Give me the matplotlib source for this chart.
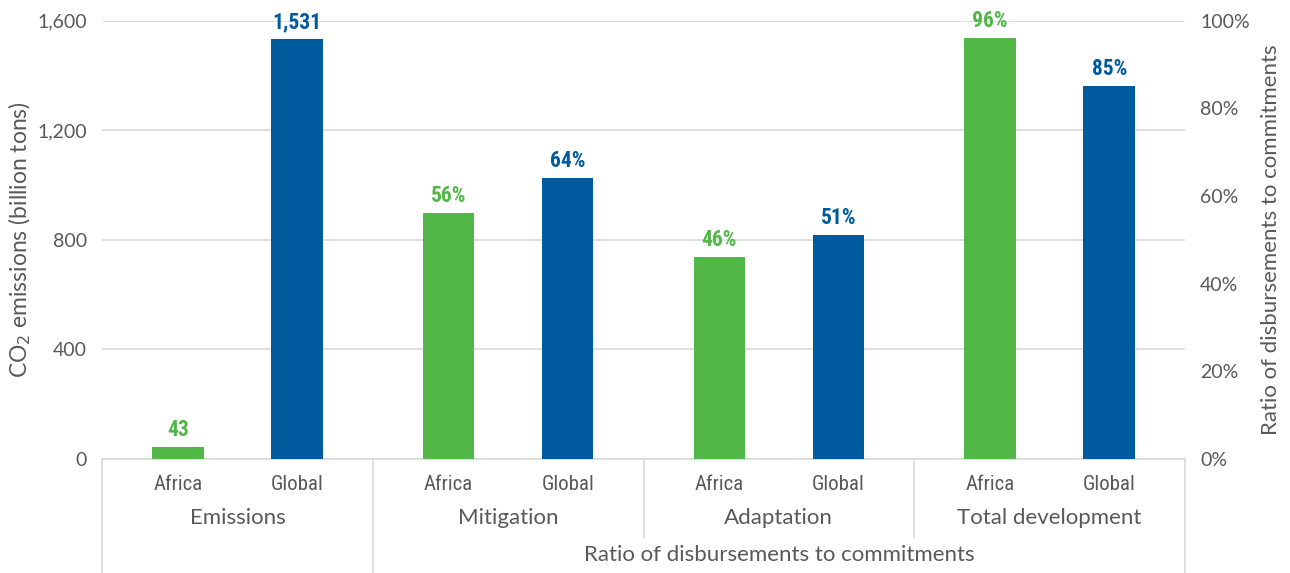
import matplotlib.pyplot as plt
from matplotlib import font_manager
from matplotlib.ticker import FuncFormatter

# data
groups = ["Emissions", "Mitigation", "Adaptation", "Total development"]
regions = ["Africa", "Global"]
emissions = [43, 1531]              # CO2, billion tons (left axis)
mitigation = [0.56, 0.64]           # disbursed / committed (right axis)
adaptation = [0.46, 0.51]
total_dev = [0.96, 0.85]
outer_label = "Ratio of disbursements to commitments"
left_ticks = [0, 400, 800, 1200, 1600]
right_ticks = [0, 0.2, 0.4, 0.6, 0.8, 1.0]

GREEN = "#51B848"
BLUE = "#005A9E"
TXT = "#595959"
GRID = "#D9D9D9"
SANS = ["Lato", "DejaVu Sans"]

# pick a condensed face for the short labels if one is installed
_have = {f.name for f in font_manager.fontManager.ttflist}
_narrow = next((n for n in ["Liberation Sans Narrow", "Roboto Condensed",
                            "Open Sans Condensed", "DejaVu Sans Condensed",
                            "Noto Sans Condensed"] if n in _have), None)
NARROW = [_narrow, "DejaVu Sans"] if _narrow else SANS
nscale = 1.0 if _narrow else 0.9

fig = plt.figure(figsize=(12.9, 5.73), dpi=100)
ax = fig.add_axes([102 / 1290, 1 - 459 / 573, 1083 / 1290, 438.5 / 573])
ax2 = ax.twinx()

w = 0.38
off = 0.44      # bar offset from group centre
colors = [GREEN, BLUE]

def xpos(g, j):
    return 2 * g + 0.5 + (off if j else -off)

# emissions on left axis
for j, v in enumerate(emissions):
    x = xpos(0, j)
    ax.bar(x, v, width=w, color=colors[j], zorder=3)
    ax.text(x, v + 22, f"{v:,}", ha="center", va="bottom", color=colors[j],
            fontsize=15.5 * nscale, fontweight="bold", family=NARROW)

# ratios on right axis
for g, vals in enumerate([mitigation, adaptation, total_dev], start=1):
    for j, v in enumerate(vals):
        x = xpos(g, j)
        ax2.bar(x, v, width=w, color=colors[j], zorder=3)
        ax2.text(x, v + 0.014, f"{v:.0%}", ha="center", va="bottom",
                 color=colors[j], fontsize=15.5 * nscale, fontweight="bold",
                 family=NARROW)

ax.set_xlim(-0.5, 7.5)
ax.set_ylim(0, 1600)
ax2.set_ylim(0, 1.0)
ax.set_yticks(left_ticks)
ax2.set_yticks(right_ticks)
ax.yaxis.set_major_formatter(FuncFormatter(lambda v, p: f"{v:,.0f}"))
ax2.yaxis.set_major_formatter(FuncFormatter(lambda v, p: f"{v:.0%}"))
ax.grid(axis="y", color=GRID, lw=1.2, zorder=0)
ax.set_axisbelow(True)

for a in (ax, ax2):
    for s in a.spines.values():
        s.set_visible(False)
    a.tick_params(axis="y", length=0, labelsize=14, labelcolor=TXT, pad=11)
    for lab in a.get_yticklabels():
        lab.set_family(SANS)
ax.set_xticks([])
ax.spines["bottom"].set_visible(True)
ax.spines["bottom"].set_color(GRID)
ax.spines["bottom"].set_linewidth(1.2)

ax.set_ylabel("CO$_2$ emissions (billion tons)", fontsize=16.5, color=TXT,
              family=SANS, labelpad=3)
ax2.set_ylabel(outer_label, fontsize=16, color=TXT, family=SANS, labelpad=8)

# multi-level category axis
tr = ax.get_xaxis_transform()
h = 438.5
def ypx(px):
    return -(px - 459) / h

for g in range(4):
    for j in range(2):
        ax.text(xpos(g, j), ypx(484), regions[j], ha="center", va="center",
                transform=tr, fontsize=15 * nscale, color=TXT, family=NARROW)
for g, name in enumerate(groups):
    ax.text(2 * g + 0.5, ypx(518), name, ha="center", va="center",
            transform=tr, fontsize=16, color=TXT, family=SANS)
ax.text(4.5, ypx(555), outer_label, ha="center", va="center",
        transform=tr, fontsize=16, color=TXT, family=SANS)

for xb, bottom in [(-0.5, 573), (1.5, 573), (3.5, 537), (5.5, 537), (7.5, 573)]:
    ax.plot([xb, xb], [0, ypx(bottom)], transform=tr, color=GRID, lw=1.2,
            clip_on=False)

fig.savefig("out.png", dpi=100)
